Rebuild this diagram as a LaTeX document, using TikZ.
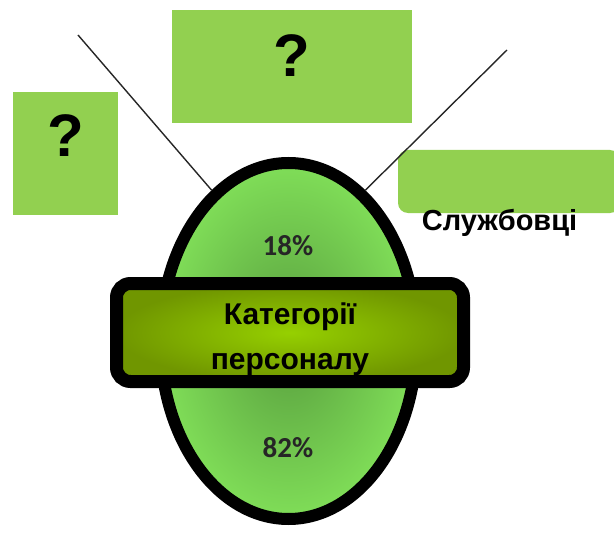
\documentclass[tikz,border=0pt]{standalone}
\usepackage{fontspec}
\setmainfont{Liberation Sans}
\newfontfamily\pctfont{Carlito}
\usetikzlibrary{shapes.geometric}

\definecolor{boxgreen}{RGB}{146,208,80}
\definecolor{eggin}{RGB}{88,158,62}
\definecolor{eggout}{RGB}{128,222,88}
\definecolor{barin}{RGB}{150,208,0}
\definecolor{barout}{RGB}{112,150,0}

\tikzset{
  qbox/.style={fill=boxgreen, inner sep=0pt},
  qmark/.style={font=\bfseries\fontsize{60}{62}\selectfont},
  lbl/.style={font=\bfseries\fontsize{29}{31}\selectfont},
  pct/.style={font=\pctfont\bfseries\fontsize{29}{31}\selectfont, text=black!85},
  spoke/.style={line width=1.4pt, black!85}
}

\begin{document}
\begin{tikzpicture}[x=1pt, y=-1pt]
\useasboundingbox (0,0) rectangle (614,535);
% boxes
\node[qbox, minimum width=105pt, minimum height=123pt] (lbox) at (65.5,153.5) {};
\node[qbox, minimum width=240pt, minimum height=113pt] (tbox) at (292,66.5) {};
\node[qbox, rounded corners=10pt, minimum width=222pt, minimum height=63pt] (rbox) at (509,181.5) {};
\node[qmark] (lq) at (66,136) {?};
\node[qmark] (tq) at (292,56) {?};
\node[lbl] (emp) at (499.5,223) {Службовці};
% spokes
\coordinate (la) at (78,35);
\coordinate (ra) at (507,50);
\node[ellipse, draw, line width=12pt, minimum width=256pt, minimum height=356pt,
  inner color=eggin, outer color=eggout] (egg) at (288.5,341) {};
\draw[spoke] (la) -- (egg.117);
\draw[spoke] (ra) -- (egg.63);
\node[pct] (top) at (288,246) {18\%};
\node[pct] (bot) at (288,448) {82\%};
% banner
\node[draw, line width=13pt, rounded corners=14pt, minimum width=347pt, minimum height=98pt,
  inner color=barin, outer color=barout] (cat) at (290,332.5) {};
\node[align=center, font=\bfseries\fontsize{30}{45}\selectfont] (cattxt) at (290,339.5) {Категорії\\персоналу};
\end{tikzpicture}
\end{document}
